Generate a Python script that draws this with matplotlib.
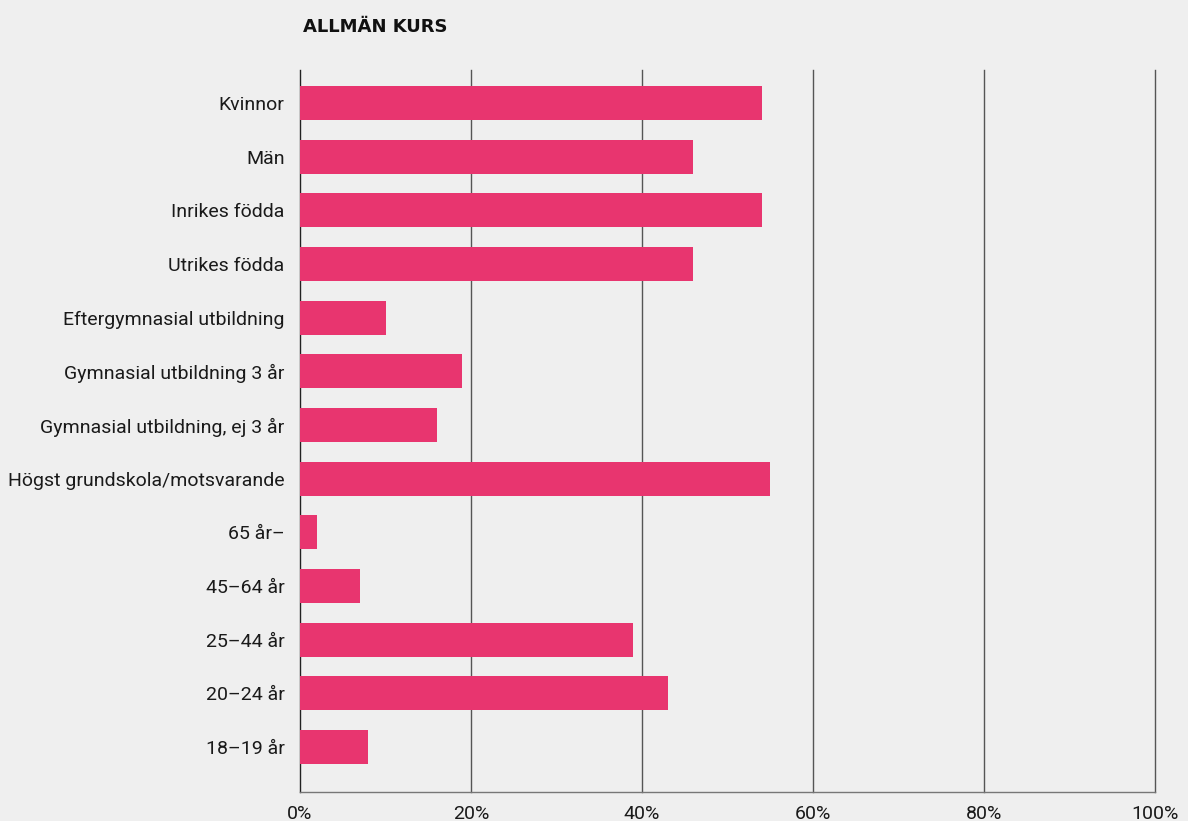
import matplotlib.pyplot as plt

plt.rcParams['font.family'] = ['Roboto', 'DejaVu Sans']

categories = ["Kvinnor", "Män", "Inrikes födda", "Utrikes födda",
              "Eftergymnasial utbildning", "Gymnasial utbildning 3 år",
              "Gymnasial utbildning, ej 3 år", "Högst grundskola/motsvarande",
              "65 år–", "45–64 år", "25–44 år", "20–24 år", "18–19 år"]
values = [54, 46, 54, 46, 10, 19, 16, 55, 2, 7, 39, 43, 8]
xticks = [0, 20, 40, 60, 80, 100]
xtick_labels = ["0%", "20%", "40%", "60%", "80%", "100%"]

bg = "#efefef"
fig = plt.figure(figsize=(11.88, 8.21), dpi=100, facecolor=bg)
ax = fig.add_axes([300 / 1188, 1 - 792 / 821, 855 / 1188, 722 / 821])
ax.set_facecolor(bg)

pos = list(range(len(categories)))
ax.barh(pos, values, height=0.63, color="#e8356f", zorder=3)

ax.set_xlim(0, 100)
ax.set_ylim(12.84, -0.615)
ax.set_yticks(pos)
ax.set_yticklabels(categories, fontsize=14, color="#1a1a1a")
ax.set_xticks(xticks)
ax.set_xticklabels(xtick_labels, fontsize=14, color="#1a1a1a")
ax.tick_params(axis="both", length=0)
ax.tick_params(axis="y", pad=11)
ax.tick_params(axis="x", pad=9)

# vertical gridlines, the last one sits on the right edge
for x in xticks[1:]:
    ax.axvline(x, color="#555555", linewidth=1.0, zorder=1, clip_on=False)

for s in ["top", "right"]:
    ax.spines[s].set_visible(False)
ax.spines["left"].set_color("#222222")
ax.spines["left"].set_linewidth(1.0)
ax.spines["bottom"].set_color("#777777")
ax.spines["bottom"].set_linewidth(1.0)

fig.text(303 / 1188, 1 - 27 / 821, "ALLMÄN KURS", fontsize=13, fontweight="bold",
         family=["DejaVu Sans"], color="#111111", va="center", ha="left")

fig.savefig("out.png", dpi=100, facecolor=bg)
